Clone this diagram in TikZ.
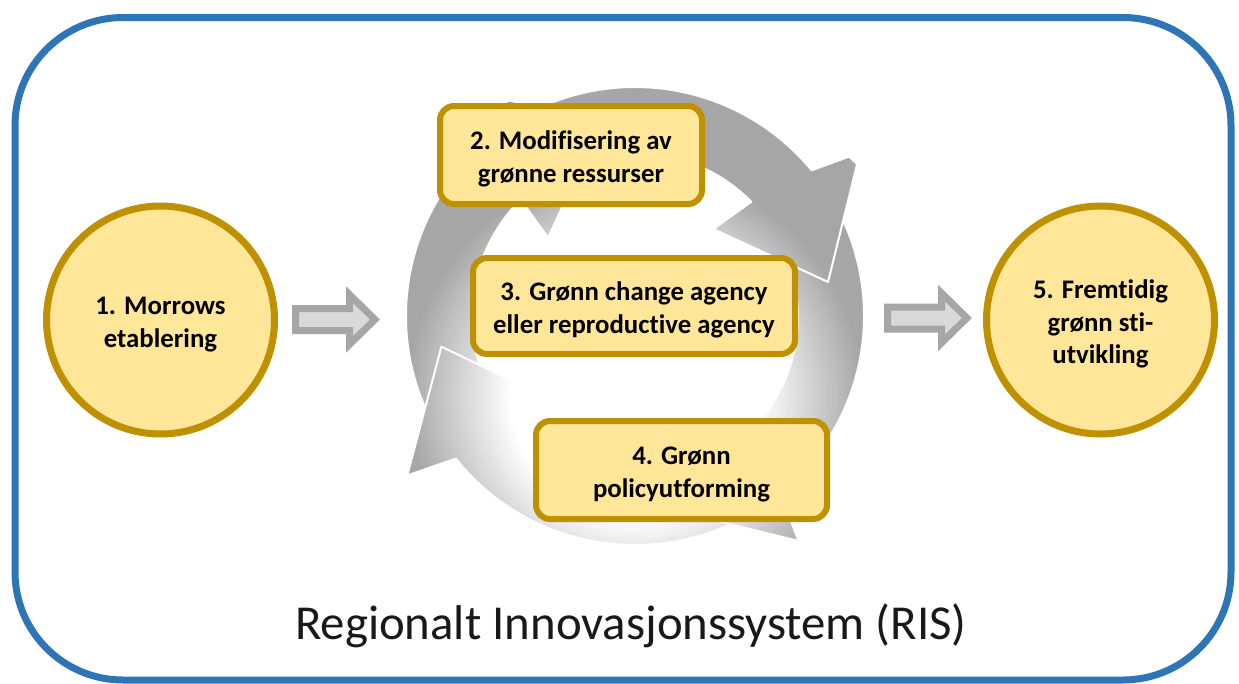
\documentclass[tikz,border=0pt]{standalone}
\usepackage{fontspec}
\setmainfont{Carlito}[Ligatures=NoCommon]

\definecolor{frameblue}{HTML}{2E75B6}
\definecolor{boxfill}{HTML}{FFE699}
\definecolor{boxline}{HTML}{BF9000}
\definecolor{arrowline}{HTML}{A6A6A6}
\definecolor{arrowfill}{HTML}{D9D9D9}

\newcommand\labelfont{\bfseries\fontsize{26.8}{32.5}\selectfont}
% taller first line, so the label block sits a little lower in its shape
\newcommand\lift{\rule{0pt}{27pt}}

\tikzset{
  labeltext/.style={align=center, font=\labelfont, inner sep=0pt},
  stage/.style={labeltext, draw=boxline, fill=boxfill, line width=6pt, rounded corners=14pt},
  endpoint/.style={labeltext, circle, draw=boxline, fill=boxfill, line width=7pt,
                   minimum size=228pt},
  blockarrow/.style={draw=arrowline, fill=arrowfill, line width=7pt, miter limit=10},
  ringedge/.style={draw=white, line width=2pt, line join=round},
}

% One curved arrow of the cycle: #1 = tail angle, #2 = angle of the back of the head.
% Filled with a radial grey-to-white ramp, then outlined in white.
\newcommand\cyclearrow[2]{%
  \begin{scope}
    \clip (#1:229) arc[start angle=#1, end angle={#2+3.5}, radius=229]
      -- ({#2}:278) -- ({#2-26}:196) -- ({#2+12}:117) -- ({#2+8.5}:163)
      arc[start angle={#2+8.5}, end angle=#1, radius=163] -- cycle;
    \foreach \k in {0,...,66}{%
      \pgfmathsetmacro\rad{320-3*\k}%
      \pgfmathsetmacro\mix{max(0,min(70,(\rad-125)*70/105))}%
      \fill[gray!\mix!white] (0,-80) circle[radius=\rad];
    }
    \fill[white] (0,-80) circle[radius=122];
  \end{scope}
  \draw[ringedge] (#1:229) arc[start angle=#1, end angle={#2+3.5}, radius=229]
    -- ({#2}:278) -- ({#2-26}:196) -- ({#2+12}:117) -- ({#2+8.5}:163)
    arc[start angle={#2+8.5}, end angle=#1, radius=163] -- cycle;
}

\begin{document}
\begin{tikzpicture}[x=1pt, y=-1pt]
  \fill[white] (0,0) rectangle (1239,683);
  \useasboundingbox (0,0) rectangle (1239,683);

  % circular cycle of four arrows
  \coordinate (hub) at (635,316);
  \begin{scope}[shift={(hub)}, y=1pt]
    \cyclearrow{-155}{-234}
    \cyclearrow{-65}{-145}
    \cyclearrow{25}{-54}
    \cyclearrow{115}{36}
  \end{scope}

  % stages inside the cycle
  \node[stage, minimum width=262pt, minimum height=98pt] (s2) at (571,155)
    {\lift 2. Modifisering av\\grønne ressurser};
  \node[stage, minimum width=322pt, minimum height=96pt] (s3) at (634,306)
    {\lift 3. Grønn change agency\\eller reproductive agency};
  \node[stage, minimum width=291pt, minimum height=98pt] (s4) at (681.5,470)
    {\lift 4. Grønn\\policyutforming};

  % start and end
  \node[endpoint] (s1) at (160.5,320) {\lift 1. Morrows\\etablering};
  \node[endpoint] (s5) at (1100.5,320) {\lift 5. Fremtidig\\grønn sti-\\utvikling};

  % block arrows into and out of the cycle
  \coordinate (inArrow) at (292,319.5);
  \coordinate (outArrow) at (884,318);
  \foreach \c in {inArrow,outArrow}{
    \begin{scope}[shift={(\c)}]
      \draw[blockarrow] (3.5,-11) -- (57.5,-11) -- (57.5,-24.9) -- (82.9,0)
        -- (57.5,24.9) -- (57.5,11) -- (3.5,11) -- cycle;
    \end{scope}
  }

  % caption
  \node[anchor=base, font=\fontsize{48.8}{58}\selectfont, text=black!90] (title)
    at (631,639) {Regionalt Innovasjonssystem (RIS)};

  % outer frame
  \draw[frameblue, line width=7pt, rounded corners=108pt] (15,17.5) rectangle (1231,680);
\end{tikzpicture}
\end{document}
